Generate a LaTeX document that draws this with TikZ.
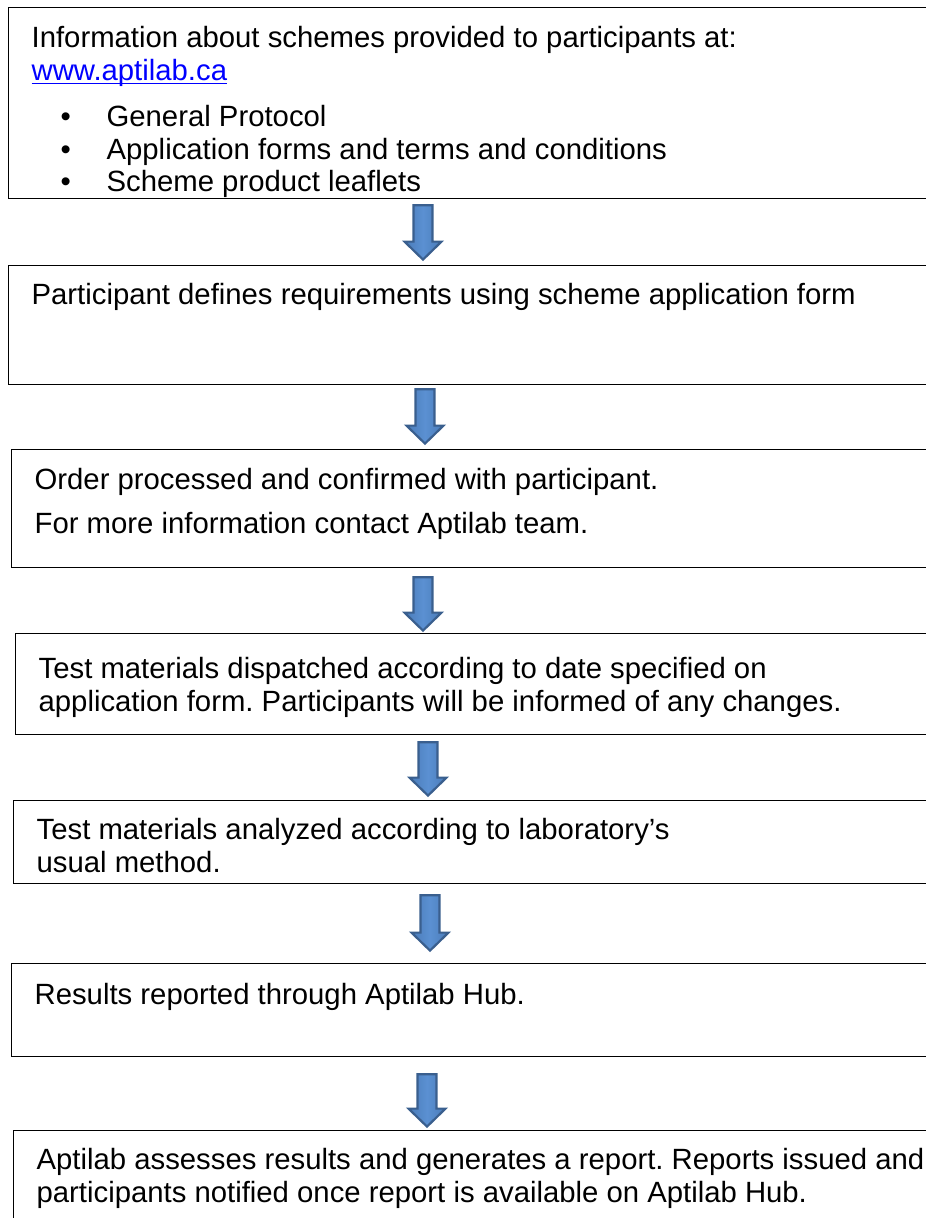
\documentclass[tikz,border=0pt]{standalone}
\usepackage{fontspec}
\setmainfont{Liberation Sans}
\usepackage{tikz}
\usetikzlibrary{calc, positioning}
\definecolor{arrowfill}{HTML}{4A7CB9}
\definecolor{arrowlight}{HTML}{5B90D2}
\definecolor{arrowedge}{HTML}{3A5F8E}
\definecolor{linkblue}{HTML}{0000FF}
\tikzstyle{stage} = [rectangle, draw=black, line width=1.3pt, anchor=north west, inner sep=0pt, font=\fontsize{29.3}{32.5}\selectfont]
\tikzstyle{blockarrow} = [draw=arrowedge, left color=arrowfill, right color=arrowfill, middle color=arrowlight, line width=2.2pt, line join=miter]
\tikzset{downarrow/.style n args={3}{blockarrow, to path={
	let \p1=(\tikztostart.south), \p2=(\tikztotarget.north) in
	({#1pt-9.5pt},{\y1-#2pt}) -- ({#1pt+9.5pt},{\y1-#2pt}) -- ({#1pt+9.5pt},{\y2+#3pt+18pt})
	-- ({#1pt+18.5pt},{\y2+#3pt+18pt}) -- ({#1pt},{\y2+#3pt}) -- ({#1pt-18.5pt},{\y2+#3pt+18pt})
	-- ({#1pt-9.5pt},{\y2+#3pt+18pt}) -- cycle}}}
% box height, first baseline, text
\newcommand{\stagetext}[3]{\parbox[t][#1pt][t]{960pt}{\frenchspacing\leftskip=23pt\rule{0pt}{#2pt}#3}}
\newcommand{\weblink}[1]{\textcolor{linkblue}{\setbox0\hbox{#1}\rlap{\rule[-4pt]{\wd0}{1.6pt}}\box0}}
\newcommand{\bulletitem}[1]{\hspace*{29pt}\makebox[46pt][l]{\textbullet}#1}

\begin{document}
\begin{tikzpicture}[x=1pt, y=-1pt]
		\useasboundingbox (0,0) rectangle (926,1218);
		\node (Information) [stage] at (8,7) {\stagetext{191}{40}{Information about schemes provided to participants at:\\
			\weblink{www.aptilab.ca}\\[14pt]
			\bulletitem{General Protocol}\\
			\bulletitem{Application forms and terms and conditions}\\
			\bulletitem{Scheme product leaflets}}};
		\node (Requirements) [stage] at (8,265) {\stagetext{119}{39}{Participant defines requirements using scheme application form}};
		\node (Order) [stage] at (11,449) {\stagetext{118}{40}{Order processed and confirmed with participant.\\[11pt]
			For more information contact Aptilab team.}};
		\node (Dispatch) [stage] at (15,633) {\stagetext{101}{45}{Test materials dispatched according to date specified on\\
			application form. Participants will be informed of any changes.}};
		\node (Analysis) [stage] at (13,800) {\stagetext{83}{39}{Test materials analyzed according to laboratory’s\\
			usual method.}};
		\node (Results) [stage] at (11,963) {\stagetext{93}{41}{Results reported through Aptilab Hub.}};
		\node (Assessment) [stage] at (13,1130) {\stagetext{120}{39}{Aptilab assesses results and generates a report. Reports issued and\\
			participants notified once report is available on Aptilab Hub.}};
		\draw [downarrow={423}{6}{5.4}] (Information) to (Requirements);
		\draw [downarrow={425}{4}{5.4}] (Requirements) to (Order);
		\draw [downarrow={423}{9}{2.4}] (Order) to (Dispatch);
		\draw [downarrow={428}{7}{4.4}] (Dispatch) to (Analysis);
		\draw [downarrow={430}{11}{12.4}] (Analysis) to (Results);
		\draw [downarrow={427}{17}{3.4}] (Results) to (Assessment);
\end{tikzpicture}
\end{document}
